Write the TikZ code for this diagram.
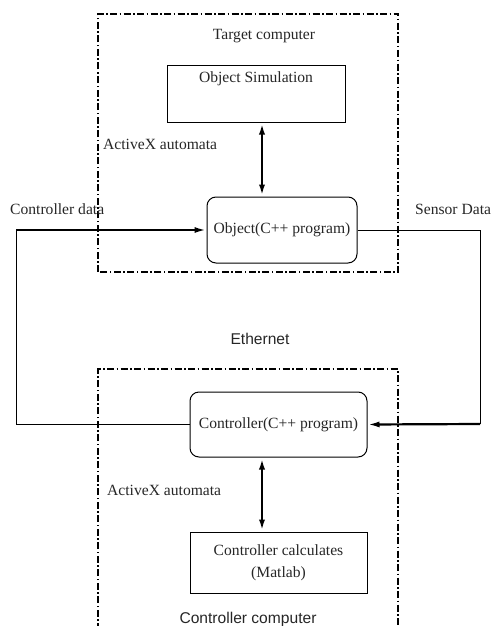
\documentclass[tikz,border=0pt]{standalone}
\usepackage{fontspec}
\setmainfont{Liberation Serif}
\newfontfamily\sansf{Liberation Sans}
\usetikzlibrary{arrows.meta}
\begin{document}
\begin{tikzpicture}[x=1pt,y=-1pt,
  every node/.style={font=\fontsize{15.6}{19}\selectfont, text=black!85, inner sep=0pt},
  grp/.style={line width=1.8pt, dash pattern=on 7pt off 2.5pt on 1.5pt off 2.5pt},
  plainbox/.style={draw, line width=1pt, minimum width=#1},
  roundbox/.style={draw, line width=1pt, rounded corners=9pt},
  thin/.style={line width=0.9pt},
  thickarr/.style={line width=2.2pt, -{Latex[length=12pt,width=6pt]}},
  dblarr/.style={line width=2.4pt, {Latex[length=12pt,width=6pt]}-{Latex[length=12pt,width=6pt]}},
  lbl/.style={anchor=west}
]
\useasboundingbox (0,0) rectangle (491,626);
% group frames
\draw[grp] (98,272) -- (98,14) -- (398,14) -- (398,272) -- cycle;
\draw[grp] (98,630) -- (98,369) -- (398,369) -- (398,630);
% nodes
\node (tgt) at (264,36) {Target computer};
\node[plainbox=178pt, minimum height=56pt] (sim) at (256,94) {};
\node[anchor=north] (simtxt) at (256,71) {Object Simulation};
\node[roundbox, minimum width=150pt, minimum height=66pt] (obj) at (282,230) {Object(C++ program)};
\node[lbl] (ax1) at (103,144) {ActiveX automata};
\node[lbl] (cdata) at (10,209) {Controller data};
\node[lbl] (sdata) at (415,209) {Sensor Data};
\node[font=\sansf\fontsize{15.6}{19}\selectfont] (eth) at (260,339) {Ethernet};
\node[roundbox, minimum width=177pt, minimum height=65pt] (ctrl) at (278.5,424.5) {Controller(C++ program)};
\node[lbl] (ax2) at (107,490) {ActiveX automata};
\node[plainbox=177pt, minimum height=61pt, align=center] (mat) at (278.5,562.5) {Controller calculates\\[3pt](Matlab)};
\node[font=\sansf\fontsize{15.6}{19}\selectfont] (ccomp) at (248,619) {Controller computer};
% connectors
\coordinate (axis) at (262,0);
\coordinate (cl) at (16,230);
\coordinate (cr) at (480,424);
\draw[dblarr] (axis |- sim.south) -- (axis |- obj.north);
\draw[dblarr] (axis |- ctrl.south) -- (axis |- mat.north);
\draw[thin] (ctrl.west) -| (cl);
\draw[thickarr] (cl) -- (obj.west);
\draw[thin] (obj.east) -| (cr);
\draw[thickarr] (cr) -- (ctrl.east);
\end{tikzpicture}
\end{document}
